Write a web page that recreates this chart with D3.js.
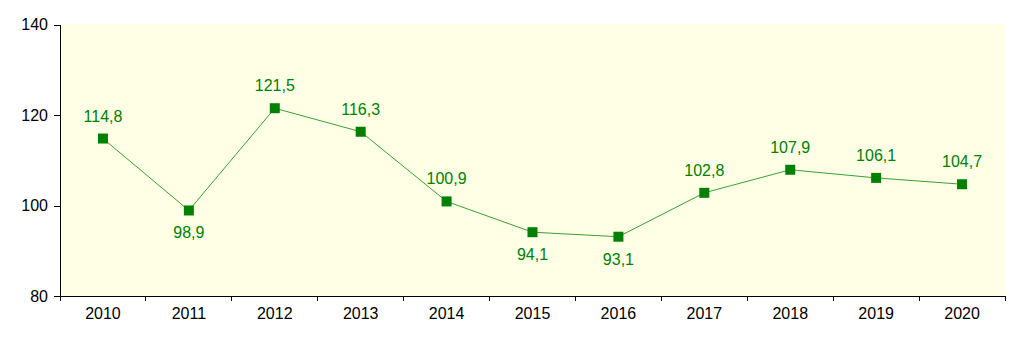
<!DOCTYPE html>
<html><head><meta charset="utf-8">
<script src="https://cdn.jsdelivr.net/npm/d3@7"></script>
<style>body{margin:0;background:#fff}svg{display:block}</style>
</head><body>
<svg id="c" width="1035" height="362"></svg>
<script>
const years = ["2010","2011","2012","2013","2014","2015","2016","2017","2018","2019","2020"];
const values = [114.8, 98.9, 121.5, 116.3, 100.9, 94.1, 93.1, 102.8, 107.9, 106.1, 104.7];
const labelBelow = [false, true, false, false, false, true, true, false, false, false, false];
const yTicks = [80, 100, 120, 140];

const svg = d3.select("#c");
const L = 60, R = 1005, T = 24.5, B = 296;
const x = d3.scaleBand().domain(years).range([L, R]);
const y = d3.scaleLinear().domain([80, 140]).range([B, T]);
const font = "Liberation Sans, Arial, sans-serif";

svg.append("rect").attr("x", L).attr("y", T).attr("width", R - L).attr("height", B - T).attr("fill", "#FFFFE5");

const yAxis = svg.append("g").attr("transform", `translate(${L},0)`)
  .call(d3.axisLeft(y).tickValues(yTicks).tickSize(6).tickPadding(6));
const xAxis = svg.append("g").attr("transform", `translate(0,${B})`)
  .call(d3.axisBottom(x).tickSize(0).tickPadding(12));
xAxis.selectAll(".bt").data(years.concat(["end"])).enter().append("line")
  .attr("x1", (d,i) => L + i * x.bandwidth()).attr("x2", (d,i) => L + i * x.bandwidth())
  .attr("y1", 0).attr("y2", 5).attr("stroke", "#000").attr("shape-rendering", "crispEdges");
[yAxis, xAxis].forEach(g => {
  g.attr("font-family", font).attr("font-size", 16);
  g.selectAll("path, line").attr("stroke", "#000").attr("shape-rendering", "crispEdges");
  g.selectAll("text").attr("font-family", font).attr("font-size", 16).attr("fill", "#000");
});
xAxis.select(".domain").attr("d", `M${L},0.5H${R}`);
yAxis.select(".domain").attr("d", `M0.5,${B}V${T}`);

const cx = d => x(d) + x.bandwidth() / 2;
const line = d3.line().x((d, i) => cx(years[i])).y(d => y(d));
svg.append("path").datum(values).attr("d", line).attr("fill", "none")
  .attr("stroke", "#3A9E3A").attr("stroke-width", 1);

svg.selectAll(".m").data(values).enter().append("rect")
  .attr("x", (d, i) => cx(years[i]) - 5).attr("y", d => y(d) - 5)
  .attr("width", 10).attr("height", 10).attr("fill", "#008000");

svg.selectAll(".lb").data(values).enter().append("text")
  .attr("x", (d, i) => cx(years[i]))
  .attr("y", (d, i) => labelBelow[i] ? y(d) + 28 : y(d) - 17)
  .attr("text-anchor", "middle").attr("font-family", font).attr("font-size", 16)
  .attr("fill", "#008000")
  .text(d => d.toFixed(1).replace(".", ","));
</script>
</body></html>
